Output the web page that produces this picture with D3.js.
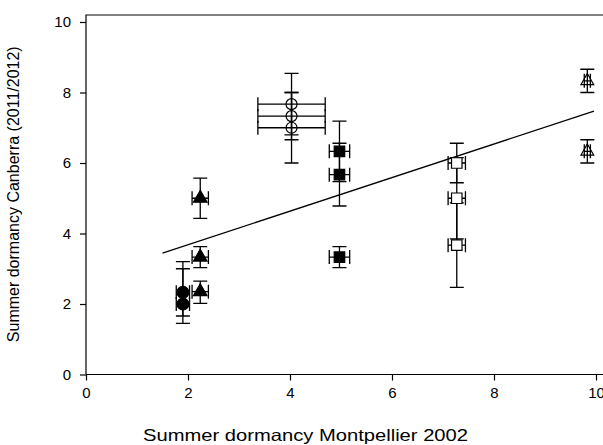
<!DOCTYPE html>
<html><head><meta charset="utf-8">
<script src="https://cdn.jsdelivr.net/npm/d3@7"></script>
<style>body{margin:0;background:#fff}svg{display:block}text{font-family:"Liberation Sans",Arial,sans-serif;fill:#000}</style>
</head><body><svg id="c" width="603" height="445"></svg>
<script>
// ---- data ----
const symbols = ["filledCircle","filledCircle","filledTriangle","filledTriangle","filledTriangle",
  "openCircle","openCircle","openCircle","filledSquare","filledSquare","filledSquare",
  "openSquare","openSquare","openSquare","openTriangle","openTriangle"];
const xValues = [1.9,1.9,2.24,2.24,2.24,4.03,4.03,4.03,4.97,4.97,4.97,7.27,7.27,7.27,9.83,9.83];
const yValues = [2.33,2.0,5.0,3.33,2.35,7.67,7.33,7.0,6.33,5.67,3.33,6.0,5.0,3.67,8.33,6.33];
const xErrors = [0.13,0.13,0.16,0.16,0.16,0.66,0.66,0.66,0.2,0.2,0.2,0.17,0.17,0.17,0.06,0.06];
const yErrLow = [0.67,0.55,0.57,0.3,0.33,0.87,0.67,1.0,0.86,0.89,0.3,0.56,1.15,1.2,0.33,0.33];
const yErrHigh = [0.67,1.2,0.57,0.3,0.3,0.87,0.67,1.0,0.86,0.89,0.3,0.56,1.15,1.2,0.33,0.33];
const fitIntercept = 2.73, fitSlope = 0.476;
const fitRange = [1.5, 9.96];
const xTicks = [0,2,4,6,8,10];
const yTicks = [0,2,4,6,8,10];
const xLabel = "Summer dormancy Montpellier 2002";
const yLabel = "Summer dormancy Canberra (2011/2012)";

// ---- drawing ----
const svg = d3.select("#c");
const x = d3.scaleLinear().domain([0,10]).range([86,596]);
const y = d3.scaleLinear().domain([0,10]).range([374.5,22]);

// frame (top line + axes)
svg.append("path").attr("d",`M${x(0)},${y(0)}V15H620`).attr("fill","none").attr("stroke","#000").attr("stroke-width",1.2);

const xa = svg.append("g").attr("transform",`translate(0,${y(0)})`)
  .call(d3.axisBottom(x).tickValues(xTicks).tickSize(6).tickPadding(7).tickFormat(d3.format("d")));
xa.select(".domain").attr("d",`M${x(0)},0H620`);
const ya = svg.append("g").attr("transform",`translate(${x(0)},0)`)
  .call(d3.axisLeft(y).tickValues(yTicks).tickSize(6).tickPadding(9).tickFormat(d3.format("d")));
ya.select(".domain").remove();
svg.selectAll(".tick text").attr("font-size",15).attr("font-family","Liberation Sans, Arial, sans-serif").attr("fill","#000");
svg.selectAll(".tick line,.domain").attr("stroke","#000").attr("stroke-width",1.2);

svg.append("text").attr("x",143).attr("y",441).attr("font-size",16.5)
  .attr("textLength",325).attr("lengthAdjust","spacingAndGlyphs").text(xLabel);
svg.append("text").attr("transform",`translate(19,${(y(0)+y(10))/2-4}) rotate(-90)`).attr("text-anchor","middle").attr("font-size",16).text(yLabel);

// regression line
svg.append("line").attr("x1",x(fitRange[0])).attr("y1",y(fitIntercept+fitSlope*fitRange[0]))
  .attr("x2",x(fitRange[1])).attr("y2",y(fitIntercept+fitSlope*fitRange[1]))
  .attr("stroke","#000").attr("stroke-width",1.3);

const cap = 7;
const pts = xValues.map((v,i)=>({x:v,y:yValues[i],xe:xErrors[i],lo:yErrLow[i],hi:yErrHigh[i],s:symbols[i]}));
const eg = svg.append("g").attr("stroke","#000").attr("stroke-width",1.3).attr("fill","none");
pts.forEach(p=>{
  const cx=x(p.x), cy=y(p.y), yt=y(p.y+p.hi), yb=y(p.y-p.lo), xl=x(p.x-p.xe), xr=x(p.x+p.xe);
  eg.append("path").attr("d",`M${cx},${yt}V${yb}M${cx-cap},${yt}H${cx+cap}M${cx-cap},${yb}H${cx+cap}`);
  eg.append("path").attr("d",`M${xl},${cy}H${xr}M${xl},${cy-cap}V${cy+cap}M${xr},${cy-cap}V${cy+cap}`);
});
const mg = svg.append("g");
pts.forEach(p=>{
  const cx=x(p.x), cy=y(p.y);
  let sym, size, fill;
  switch(p.s){
    case "filledCircle": sym=d3.symbolCircle; size=110; fill="#000"; break;
    case "openCircle": sym=d3.symbolCircle; size=95; fill="none"; break;
    case "filledTriangle": sym=d3.symbolTriangle; size=80; fill="#000"; break;
    case "openTriangle": sym=d3.symbolTriangle; size=70; fill="none"; break;
    case "filledSquare": sym=d3.symbolSquare; size=110; fill="#000"; break;
    case "openSquare": sym=d3.symbolSquare; size=110; fill="#fff"; break;
  }
  mg.append("path").attr("d",d3.symbol(sym,size)()).attr("transform",`translate(${cx},${cy})`)
    .attr("fill",fill).attr("stroke","#000").attr("stroke-width",1.2);
});
</script></body></html>
